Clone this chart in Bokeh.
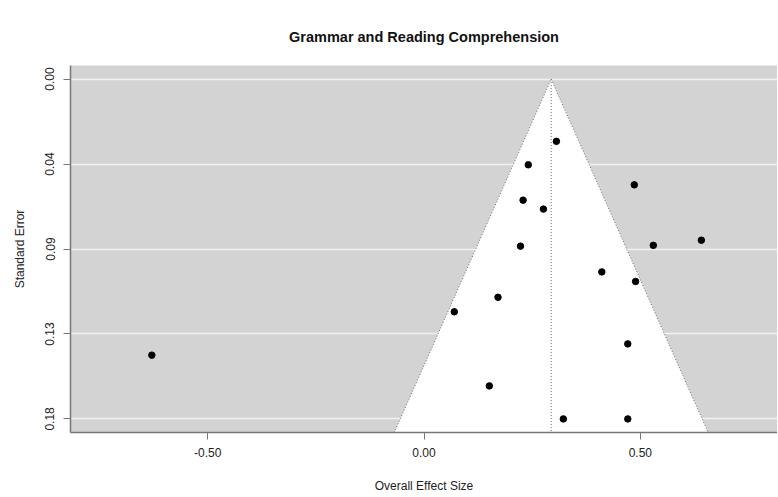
import math
from bokeh.plotting import figure
from bokeh.models import Range1d, FixedTicker, ColumnDataSource
from bokeh.embed import file_html
from bokeh.resources import INLINE

# ---- data ----
effect = [0.306, 0.241, 0.486, 0.229, 0.276, 0.223, 0.530, 0.411, 0.489,
          0.171, 0.070, 0.471, 0.151, 0.322, 0.471, 0.641, -0.629]
std_err = [0.0326, 0.0449, 0.0554, 0.0634, 0.0681, 0.0875, 0.0871, 0.101, 0.106,
           0.1143, 0.1219, 0.1387, 0.1607, 0.178, 0.178, 0.0844, 0.1446]
estimate = 0.294          # pooled effect (vertical reference line)
se_max = 0.178            # largest standard error
z_crit = 1.96
y_ticks = [0.0, 0.0445, 0.089, 0.1335, 0.178]
y_tick_labels = ["0.00", "0.04", "0.09", "0.13", "0.18"]
x_ticks = [-0.5, 0.0, 0.5]
x_tick_labels = ["-0.50", "0.00", "0.50"]

FONT = "Liberation Sans"
TXT = "#222222"
AX = "#777777"

y_bot = se_max * 1.04
y_top = -se_max * 0.04

p = figure(width=777, height=495, output_backend="svg", toolbar_location=None,
           x_range=Range1d(-0.817, 0.817), y_range=Range1d(y_bot, y_top),
           min_border_left=70, min_border_right=0, min_border_top=65,
           min_border_bottom=61)

p.title.text = "Grammar and Reading Comprehension"
p.title.align = "center"
p.title.text_font = FONT
p.title.text_font_size = "14.5px"
p.title.text_font_style = "bold"
p.title.text_color = "#111111"
p.title.standoff = 42

p.background_fill_color = "#d3d3d3"
p.border_fill_color = "white"
p.outline_line_color = None

# grid
p.xgrid.visible = False
p.ygrid.ticker = FixedTicker(ticks=y_ticks)
p.ygrid.grid_line_color = "#f2f2f2"
p.ygrid.grid_line_width = 1.3

# funnel region
p.patch([estimate - z_crit * y_bot, estimate, estimate + z_crit * y_bot],
        [y_bot, 0.0, y_bot], fill_color="white", line_color=None)
p.line([estimate - z_crit * y_bot, estimate, estimate + z_crit * y_bot],
       [y_bot, 0.0, y_bot], line_color="#666666", line_dash="1 2", line_width=1)
p.line([estimate, estimate], [0.0, y_bot], line_color="#666666",
       line_dash="1 2", line_width=1)

src = ColumnDataSource(dict(x=effect, y=std_err))
p.scatter("x", "y", source=src, size=6.5, fill_color="black", line_color="black")

# axes
p.xaxis.ticker = FixedTicker(ticks=x_ticks)
p.xaxis.major_label_overrides = {t: l for t, l in zip(x_ticks, x_tick_labels)}
p.yaxis.ticker = FixedTicker(ticks=y_ticks)
p.yaxis.major_label_overrides = {t: l for t, l in zip(y_ticks, y_tick_labels)}
p.yaxis.major_label_orientation = "vertical"

p.xaxis.axis_label = "Overall Effect Size"
p.yaxis.axis_label = "Standard Error"

for ax in (p.xaxis[0], p.yaxis[0]):
    ax.axis_line_color = AX
    ax.axis_line_width = 1.5
    ax.major_tick_line_color = AX
    ax.major_tick_in = 0
    ax.major_tick_out = 7
    ax.minor_tick_line_color = None
    ax.major_label_text_font = FONT
    ax.major_label_text_font_size = "12px"
    ax.major_label_text_color = TXT
    ax.axis_label_text_font = FONT
    ax.axis_label_text_font_size = "12px"
    ax.axis_label_text_font_style = "normal"
    ax.axis_label_text_color = TXT

p.xaxis.major_label_standoff = 8
p.yaxis.major_label_standoff = 9
p.xaxis.axis_label_standoff = 19
p.yaxis.axis_label_standoff = 16

open("out.html", "w").write(file_html(p, INLINE))
